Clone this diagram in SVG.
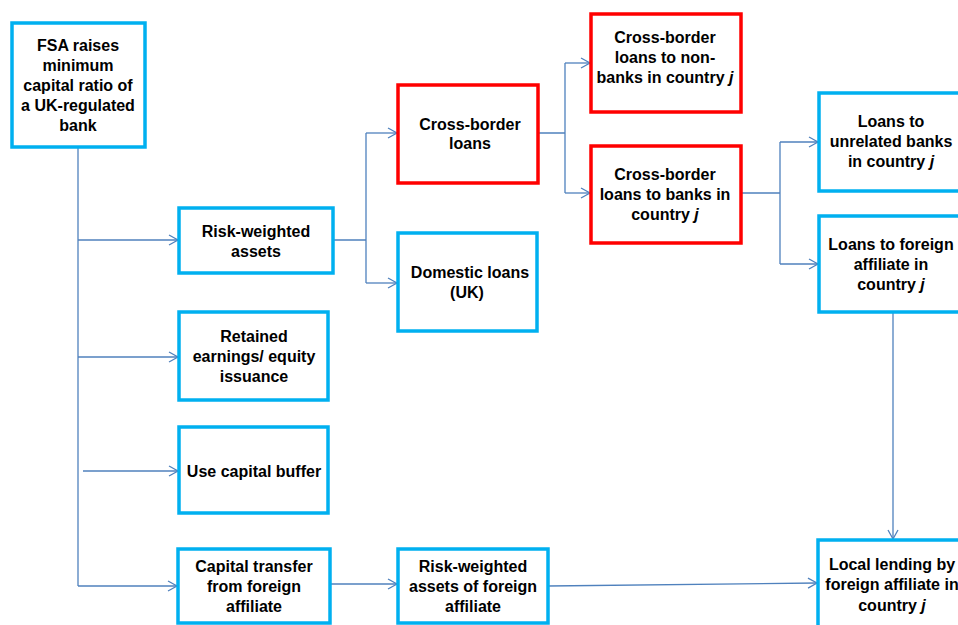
<svg xmlns="http://www.w3.org/2000/svg" width="958" height="625" viewBox="0 0 958 625">
<style>
.b{fill:#fff;stroke:#00B0F0;stroke-width:3.5}
.r{fill:#fff;stroke:#FF0000;stroke-width:3.5}
.t{font-family:"Liberation Sans",Arial,sans-serif;font-weight:bold;font-size:16px;fill:#000;text-anchor:middle}
.c{fill:none;stroke:#4F81BD;stroke-width:1.3}
.a{fill:none;stroke:#4F81BD;stroke-width:1.3;marker-end:url(#ah)}
</style>
<defs>
<marker id="ah" markerWidth="12" markerHeight="12" refX="10" refY="6" orient="auto" markerUnits="userSpaceOnUse">
<path d="M1,1 L10,6 L1,11" fill="none" stroke="#4F81BD" stroke-width="1.3"/>
</marker>
</defs>
<rect width="958" height="625" fill="#fff"/>
<g id="connectors">
<path class="c" d="M78,147 V586"/>
<path class="a" d="M78,240 H178"/>
<path class="a" d="M78,357 H178"/>
<path class="a" d="M83,471 H178"/>
<path class="a" d="M78,586 H177"/>
<path class="c" d="M333,240 H366 M366,133 V283"/>
<path class="a" d="M366,133 H397"/>
<path class="a" d="M366,283 H397"/>
<path class="c" d="M538,133 H565 M565,63 V193"/>
<path class="a" d="M565,63 H590"/>
<path class="a" d="M565,193 H590"/>
<path class="c" d="M741,193 H780 M780,142 V264"/>
<path class="a" d="M780,142 H818"/>
<path class="a" d="M780,264 H818"/>
<path class="a" d="M893,312 V539"/>
<path class="a" d="M330,584 H397"/>
<path class="a" d="M548,586 L817,583"/>
</g>
<g id="fsa">
<rect class="b" x="12" y="23" width="133" height="124"/>
<text class="t" x="78" y="51">FSA raises</text>
<text class="t" x="78" y="71">minimum</text>
<text class="t" x="78" y="91">capital ratio of</text>
<text class="t" x="78" y="111">a UK-regulated</text>
<text class="t" x="78" y="131">bank</text>
</g>
<g id="rwa">
<rect class="b" x="179" y="208" width="154" height="65"/>
<text class="t" x="256" y="237">Risk-weighted</text>
<text class="t" x="256" y="257">assets</text>
</g>
<g id="retained">
<rect class="b" x="179" y="312" width="149" height="88"/>
<text class="t" x="254" y="342">Retained</text>
<text class="t" x="254" y="362">earnings/ equity</text>
<text class="t" x="254" y="382">issuance</text>
</g>
<g id="buffer">
<rect class="b" x="179" y="427" width="149" height="86"/>
<text class="t" x="254" y="477">Use capital buffer</text>
</g>
<g id="transfer">
<rect class="b" x="178" y="549" width="152" height="74"/>
<text class="t" x="254" y="572">Capital transfer</text>
<text class="t" x="254" y="592">from foreign</text>
<text class="t" x="254" y="612">affiliate</text>
</g>
<g id="crossborder">
<rect class="r" x="398" y="85" width="140" height="98"/>
<text class="t" x="470" y="130">Cross-border</text>
<text class="t" x="470" y="149">loans</text>
</g>
<g id="domestic">
<rect class="b" x="398" y="233" width="139" height="98"/>
<text class="t" x="470" y="278">Domestic loans</text>
<text class="t" x="467" y="298">(UK)</text>
</g>
<g id="rwaforeign">
<rect class="b" x="398" y="549" width="150" height="74"/>
<text class="t" x="473" y="572">Risk-weighted</text>
<text class="t" x="473" y="592">assets of foreign</text>
<text class="t" x="473" y="612">affiliate</text>
</g>
<g id="cbnonbanks">
<rect class="r" x="591" y="14" width="150" height="98"/>
<text class="t" x="665" y="43">Cross-border</text>
<text class="t" x="665" y="63">loans to non-</text>
<text class="t" x="665" y="83">banks in country <tspan font-style="italic">j</tspan></text>
</g>
<g id="cbbanks">
<rect class="r" x="591" y="146" width="150" height="97"/>
<text class="t" x="665" y="180">Cross-border</text>
<text class="t" x="665" y="200">loans to banks in</text>
<text class="t" x="665" y="220">country <tspan font-style="italic">j</tspan></text>
</g>
<g id="unrelated">
<rect class="b" x="819" y="93" width="150" height="98"/>
<text class="t" x="891" y="127">Loans to</text>
<text class="t" x="891" y="147">unrelated banks</text>
<text class="t" x="891" y="167">in country <tspan font-style="italic">j</tspan></text>
</g>
<g id="foreignaffiliate">
<rect class="b" x="819" y="216" width="150" height="96"/>
<text class="t" x="891" y="250">Loans to foreign</text>
<text class="t" x="891" y="270">affiliate in</text>
<text class="t" x="891" y="290">country <tspan font-style="italic">j</tspan></text>
</g>
<g id="locallending">
<rect class="b" x="818" y="540" width="150" height="100"/>
<text class="t" x="892" y="570">Local lending by</text>
<text class="t" x="892" y="590">foreign affiliate in</text>
<text class="t" x="892" y="611">country <tspan font-style="italic">j</tspan></text>
</g>
</svg>
